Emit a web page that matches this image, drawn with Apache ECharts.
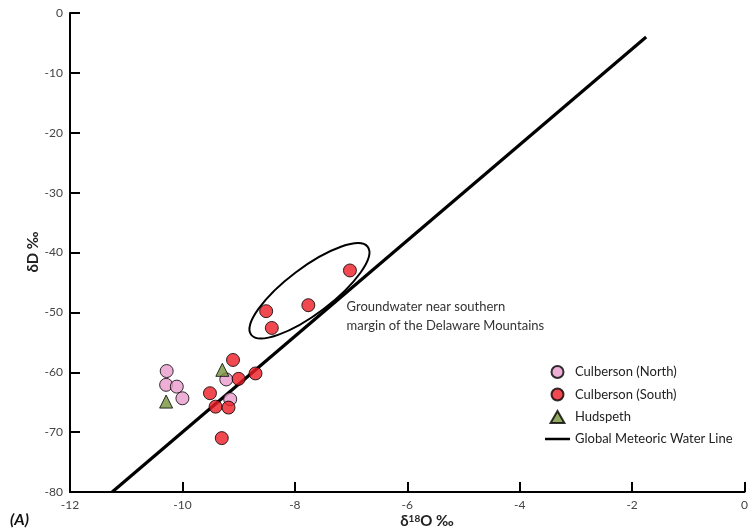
<!DOCTYPE html>
<html>
<head>
<meta charset="utf-8">
<script src="https://cdn.jsdelivr.net/npm/echarts@6/dist/echarts.min.js"></script>
<style>
html,body{margin:0;padding:0;background:#fff;}
#c{width:751px;height:532px;}
</style>
</head>
<body>
<div id="c"></div>
<script>
// ---- data ----
const northX = [-10.28, -10.29, -10.10, -10.00, -9.22, -9.15];
const northY = [-59.8, -62.1, -62.4, -64.35, -61.2, -64.5];
const southX = [-9.10, -9.00, -8.70, -9.51, -9.41, -9.18, -9.30, -7.02, -7.76, -8.51, -8.41];
const southY = [-57.95, -61.1, -60.2, -63.5, -65.75, -65.9, -71.0, -43.0, -48.8, -49.8, -52.6];
const hudX = [-10.29, -9.29];
const hudY = [-64.9, -59.6];
const gmwlX = [-11.25, -1.75];
const gmwlY = [-80, -4];
const xTicks = [-12, -10, -8, -6, -4, -2, 0];
const yTicks = [-80, -70, -60, -50, -40, -30, -20, -10, 0];
const seriesNames = ['Culberson (North)', 'Culberson (South)', 'Hudspeth', 'Global Meteoric Water Line'];
const noteLines = ['Groundwater near southern', 'margin of the Delaware Mountains'];
const ellipseCenter = [-7.74, -46.4];
const notePos = [-7.08, -47.5];

const zip = (a, b) => a.map((v, i) => [v, b[i]]);
const FONT = 'Lato, "Open Sans", sans-serif';

const chart = echarts.init(document.getElementById('c'), null, {renderer: 'canvas'});

const axisCommon = {
  axisLine: {show: true, onZero: false, lineStyle: {color: '#000', width: 2}},
  axisTick: {show: true, inside: true, length: 10, lineStyle: {color: '#000', width: 2}},
  splitLine: {show: false},
  axisLabel: {color: '#444', fontSize: 12, fontFamily: FONT, margin: 7}
};

chart.setOption({
  animation: false,
  backgroundColor: '#fff',
  grid: {left: 70, top: 13, right: 2, bottom: 40, containLabel: false},
  xAxis: Object.assign({type: 'value', min: xTicks[0], max: xTicks[xTicks.length - 1], interval: 2}, axisCommon),
  yAxis: Object.assign({type: 'value', min: yTicks[0], max: yTicks[yTicks.length - 1], interval: 10}, axisCommon),
  legend: {
    orient: 'vertical', left: 540, top: 360,
    itemWidth: 25, itemHeight: 12, itemGap: 8.5, symbolKeepAspect: true,
    textStyle: {fontSize: 13, color: '#222', fontFamily: FONT},
    data: [
      {name: seriesNames[0], icon: 'circle'},
      {name: seriesNames[1], icon: 'circle'},
      {name: seriesNames[2], icon: 'path://M6 0L12 10.4L0 10.4Z'},
      {name: seriesNames[3], icon: 'path://M0 0H30V3H0Z'}
    ]
  },
  series: [
    {
      name: seriesNames[3], type: 'line', data: zip(gmwlX, gmwlY), symbol: 'none', z: 1,
      lineStyle: {color: '#000', width: 3.2}, itemStyle: {color: '#000'}
    },
    {
      name: seriesNames[0], type: 'scatter', data: zip(northX, northY), symbol: 'circle', symbolSize: 13, z: 2,
      itemStyle: {color: '#e99bcb', borderColor: '#000', borderWidth: 1}
    },
    {
      name: seriesNames[2], type: 'scatter', data: zip(hudX, hudY), symbol: 'triangle', symbolSize: 13, z: 3,
      itemStyle: {color: '#76923c', borderColor: '#000', borderWidth: 1}
    },
    {
      name: seriesNames[1], type: 'scatter', data: zip(southX, southY), symbol: 'circle', symbolSize: 13, z: 4,
      itemStyle: {color: '#ec1b23', borderColor: '#000', borderWidth: 1}
    }
  ]
});

const c = chart.convertToPixel({gridIndex: 0}, ellipseCenter);
const noteAt = chart.convertToPixel({gridIndex: 0}, notePos);

chart.setOption({
  graphic: [
    {
      type: 'ellipse', x: c[0], y: c[1], rotation: 37 * Math.PI / 180,
      shape: {cx: 0, cy: 0, rx: 73, ry: 23},
      style: {fill: 'none', stroke: '#000', lineWidth: 2}, z: 10
    },
    {
      type: 'text', x: noteAt[0], y: noteAt[1],
      style: {text: noteLines.join('\n'), fill: '#333', font: '13px ' + FONT, lineHeight: 19, verticalAlign: 'top'}
    },
    {
      type: 'text', x: 427, y: 521,
      style: {
        text: '{a|δ}{s|18}{a|O ‰}',
        align: 'center', verticalAlign: 'middle',
        rich: {
          a: {fontSize: 15, fontWeight: 'bold', fontFamily: FONT, fill: '#222', color: '#222'},
          s: {fontSize: 10, fontWeight: 'bold', fontFamily: FONT, fill: '#222', color: '#222', padding: [0, 0, 5, 0]}
        }
      }
    },
    {
      type: 'text', x: 33, y: 252, rotation: Math.PI / 2,
      style: {text: 'δD ‰', align: 'center', verticalAlign: 'middle', font: 'bold 15px ' + FONT, fill: '#222'}
    },
    {
      type: 'text', x: 10, y: 520,
      style: {text: '(A)', verticalAlign: 'middle', font: 'italic bold 16px ' + FONT, fill: '#111'}
    }
  ]
});
</script>
</body>
</html>
